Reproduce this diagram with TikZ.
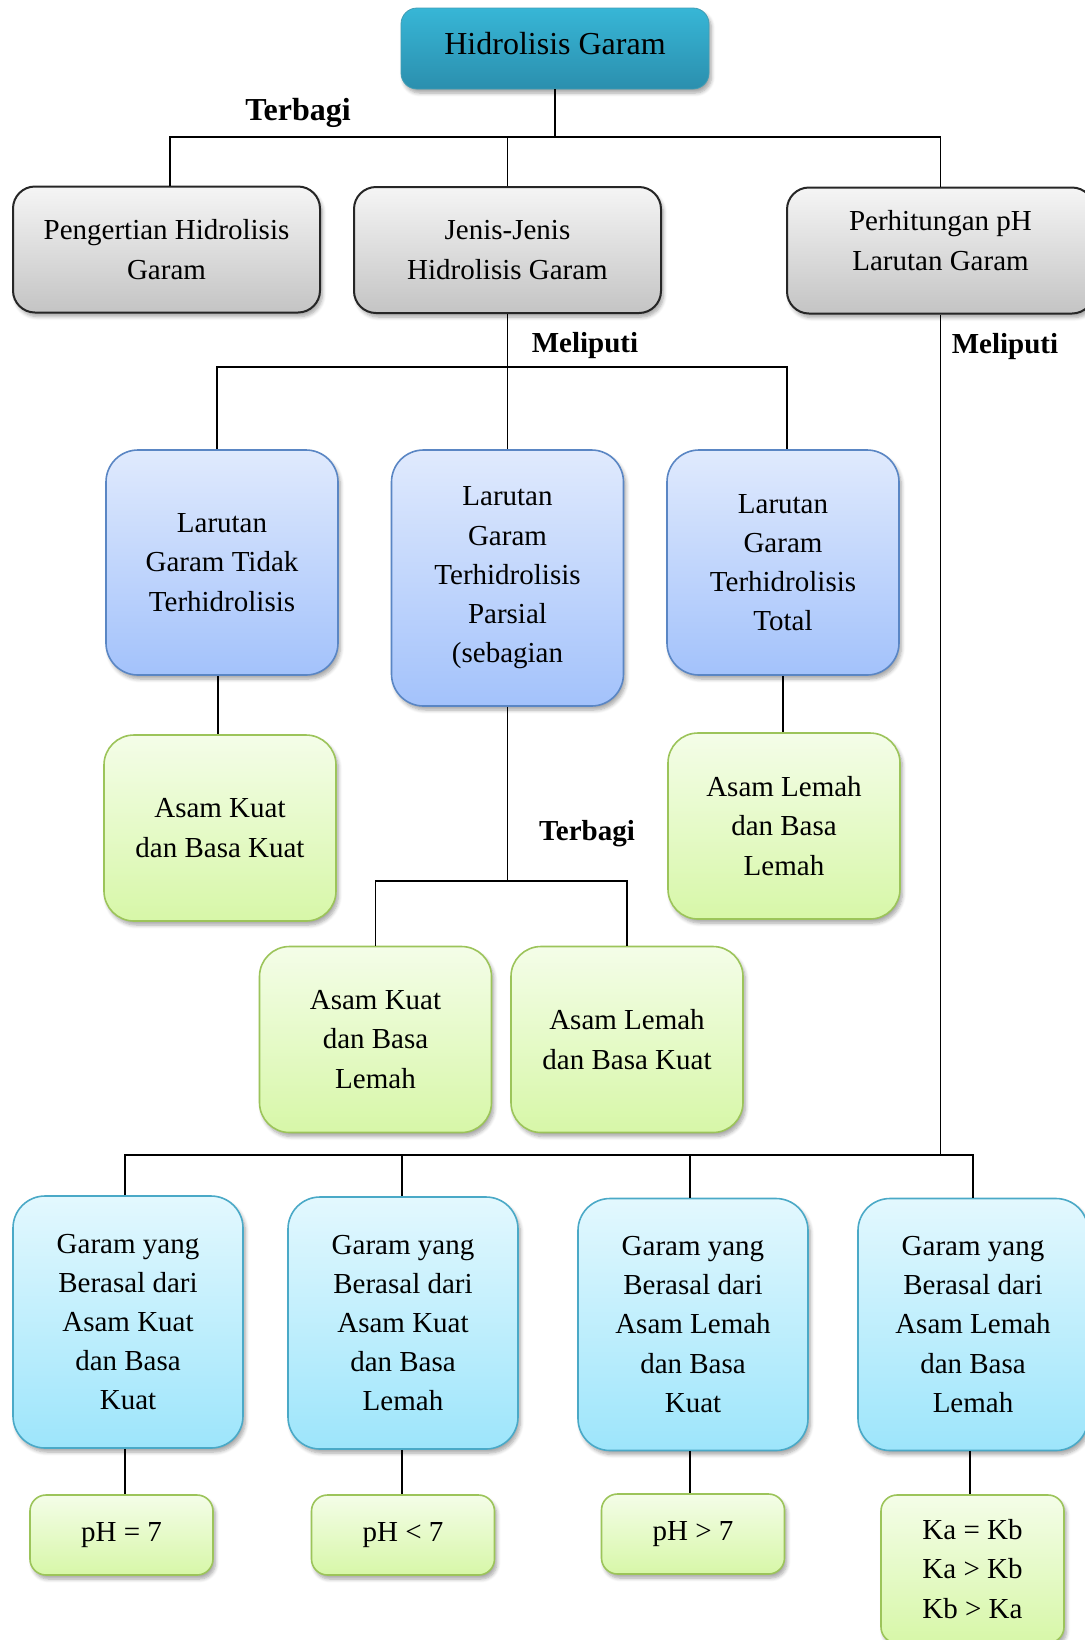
\documentclass[tikz,border=0pt]{standalone}
\usepackage{fontspec}
\setmainfont{Liberation Serif}
\usetikzlibrary{shadows.blur}

\definecolor{rootTop}{HTML}{37B6D6}
\definecolor{rootBot}{HTML}{2B8FAE}
\definecolor{grayTop}{HTML}{F5F5F5}
\definecolor{grayBot}{HTML}{C4C4C4}
\definecolor{blueTop}{HTML}{E0EAFD}
\definecolor{blueBot}{HTML}{A3C2FB}
\definecolor{blueLine}{HTML}{5A86C4}
\definecolor{greenTop}{HTML}{F4FDE8}
\definecolor{greenBot}{HTML}{D7F7A8}
\definecolor{greenLine}{HTML}{9CC45A}
\definecolor{cyanTop}{HTML}{E3F8FE}
\definecolor{cyanBot}{HTML}{9DE5FB}
\definecolor{cyanLine}{HTML}{4AA9C7}

\tikzset{
  boxtext/.style={align=center, inner sep=0pt, font=\fontsize{14.5}{19.6}\selectfont},
  boxbase/.style={boxtext,
    blur shadow={shadow xshift=1.2pt, shadow yshift=-2pt, shadow blur steps=6, shadow opacity=35}},
  rootbox/.style={boxbase, rounded corners=8pt, top color=rootTop, bottom color=rootBot,
    draw=rootTop!80!black!90, line width=0.4pt,
    minimum width=154pt, minimum height=40.5pt},
  graybox/.style={boxbase, rounded corners=11pt, top color=grayTop, bottom color=grayBot,
    draw=black!85, line width=1pt, minimum width=153.5pt, minimum height=63pt},
  bluebox/.style={boxbase, rounded corners=16pt, top color=blueTop, bottom color=blueBot,
    draw=blueLine, line width=0.8pt, minimum width=116pt, minimum height=112.5pt},
  greenbox/.style={boxbase, rounded corners=15pt, top color=greenTop, bottom color=greenBot,
    draw=greenLine, line width=0.8pt, minimum width=116pt, minimum height=93pt},
  cyanbox/.style={boxbase, rounded corners=16pt, top color=cyanTop, bottom color=cyanBot,
    draw=cyanLine, line width=0.8pt, minimum width=115pt, minimum height=126pt},
  phbox/.style={greenbox, rounded corners=8pt, minimum width=91.5pt, minimum height=40pt},
  tag/.style={font=\bfseries\fontsize{14.5}{17}\selectfont, inner sep=0pt},
  link/.style={line width=0.9pt, black}
}

\begin{document}
\begin{tikzpicture}[x=0.5pt, y=-0.5pt]
  \useasboundingbox (0,0) rectangle (1085,1640);

  \node[rootbox] (root) at (555,48.5) {};
  \node[boxtext, font=\fontsize{16}{19.6}\selectfont] (roottxt) at ([yshift=2.5pt]root.center) {Hidrolisis Garam};

  \node[graybox] (peng) at (166.5,249.5) {Pengertian Hidrolisis\\Garam};
  \node[graybox] (jenis) at (507.5,250) {Jenis-Jenis\\Hidrolisis Garam};
  \node[graybox] (hitung) at (940.5,250.5) {};
  \node[boxtext] (hitungtxt) at ([yshift=5pt]hitung.center) {Perhitungan pH\\Larutan Garam};

  \node[bluebox] (tidak) at (222,562.5) {Larutan\\Garam Tidak\\Terhidrolisis};
  \node[bluebox, minimum height=128pt] (parsial) at (507.5,578) {Larutan\\Garam\\Terhidrolisis\\Parsial\\(sebagian};
  \node[bluebox] (total) at (783,562.5) {Larutan\\Garam\\Terhidrolisis\\Total};

  \node[greenbox] (kuatkuat) at (220,828) {Asam Kuat\\dan Basa Kuat};
  \node[greenbox] (lemahlemah) at (784,826) {Asam Lemah\\dan Basa\\Lemah};
  \node[greenbox] (kuatlemah) at (375.5,1039.5) {Asam Kuat\\dan Basa\\Lemah};
  \node[greenbox] (lemahkuat) at (627,1039.5) {Asam Lemah\\dan Basa Kuat};

  \node[cyanbox] (gkk) at (128,1322) {Garam yang\\Berasal dari\\Asam Kuat\\dan Basa\\Kuat};
  \node[cyanbox] (gkl) at (403,1323) {Garam yang\\Berasal dari\\Asam Kuat\\dan Basa\\Lemah};
  \node[cyanbox] (glk) at (693,1324.5) {Garam yang\\Berasal dari\\Asam Lemah\\dan Basa\\Kuat};
  \node[cyanbox] (gll) at (973,1324.5) {Garam yang\\Berasal dari\\Asam Lemah\\dan Basa\\Lemah};

  \node[phbox] (phsama) at (121.5,1535) {pH = 7};
  \node[phbox] (phkurang) at (403,1535) {pH < 7};
  \node[phbox] (phlebih) at (693,1534) {pH > 7};
  \node[phbox, minimum height=74pt] (kakb) at (972.5,1569) {Ka = Kb\\Ka > Kb\\Kb > Ka};

  \node[tag, font=\bfseries\fontsize{16}{19}\selectfont] (terbagiA) at (298,113) {Terbagi};
  \node[tag] (meliputiA) at (585,346) {Meliputi};
  \node[tag] (meliputiB) at (1005,347) {Meliputi};
  \node[tag] (terbagiB) at (587,834) {Terbagi};

  \coordinate (barA) at (555,137);
  \coordinate (barB) at (507.5,367);
  \coordinate (barC) at (507.5,881);
  \coordinate (barD) at (940.5,1155);

  \draw[link] (root.south) -- (barA);
  \draw[link] ([xshift=1.75pt]peng.north) |- (barA) -| (hitung.north);
  \draw[link] (jenis.north) -- (jenis.north |- barA);

  \draw[link] (jenis.south) -- (parsial.north);
  \draw[link] ([xshift=-2.5pt]tidak.north) |- (barB) -| ([xshift=2pt]total.north);

  \draw[link] ([xshift=-2pt]tidak.south) -- ([xshift=-2pt]tidak.south |- kuatkuat.north);
  \draw[link] (total.south) -- (total.south |- lemahlemah.north);

  \draw[link] (parsial.south) -- (barC);
  \draw[link] (kuatlemah.north) |- (barC) -| (lemahkuat.north);

  \draw[link] (hitung.south) -- (barD);
  \draw[link] ([xshift=-1.5pt]gkk.north) |- (barD) -| (gll.north);
  \draw[link] ([xshift=-0.5pt]gkl.north) -- ([xshift=-0.5pt]gkl.north |- barD);
  \draw[link] ([xshift=-1.5pt]glk.north) -- ([xshift=-1.5pt]glk.north |- barD);

  \draw[link] ([xshift=-1.5pt]gkk.south) -- ([xshift=-1.5pt]gkk.south |- phsama.north);
  \draw[link] ([xshift=-0.5pt]gkl.south) -- ([xshift=-0.5pt]gkl.south |- phkurang.north);
  \draw[link] ([xshift=-1.5pt]glk.south) -- ([xshift=-1.5pt]glk.south |- phlebih.north);
  \draw[link] ([xshift=-1.5pt]gll.south) -- ([xshift=-1.5pt]gll.south |- kakb.north);
\end{tikzpicture}
\end{document}
